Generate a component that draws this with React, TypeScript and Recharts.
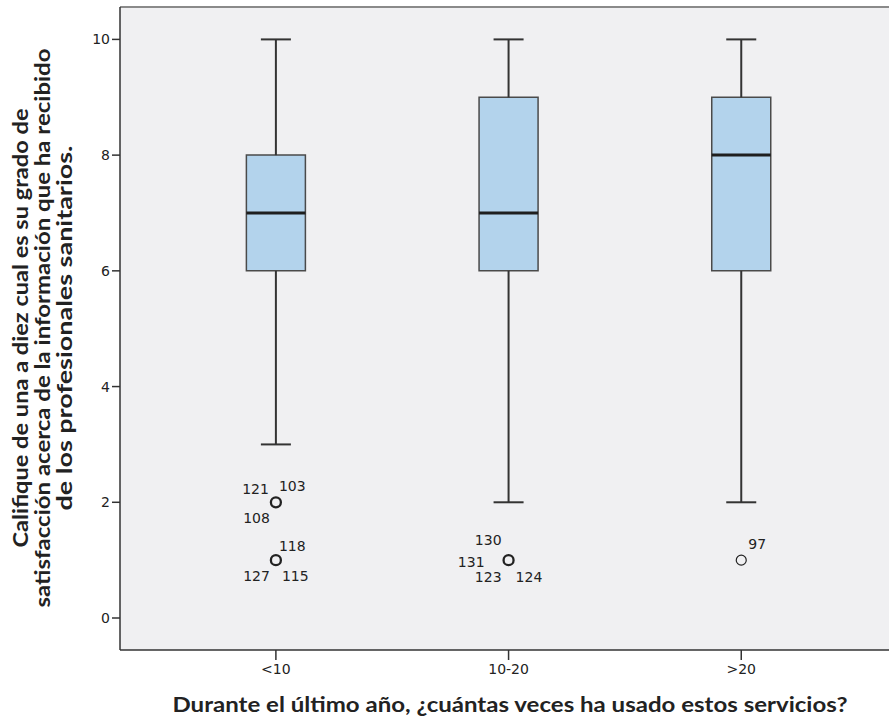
import {
    ComposedChart,
    Scatter,
    XAxis,
    YAxis,
    CartesianGrid,
    ReferenceArea,
    ReferenceLine,
} from 'recharts';

const categories = ['<10', '10-20', '>20'];
const whiskerLow = [3, 2, 2];
const quartile1 = [6, 6, 6];
const medians = [7, 7, 8];
const quartile3 = [8, 9, 9];
const whiskerHigh = [10, 10, 10];

// outliers: group index, value, case numbers shown beside the marker
const outlierGroups = [0, 0, 1, 2];
const outlierValues = [2, 1, 1, 1];
const outlierCases = [
    ['121', '103', '108'],
    ['118', '127', '115'],
    ['130', '131', '123', '124'],
    ['97'],
];

const yTicks = [0, 2, 4, 6, 8, 10];
const Y_DOMAIN = [-0.553, 10.56];
const X_DOMAIN = [0.33, 3.635];
const BOX_HALF = 0.1268;
const CAP_HALF = 0.0645;

// where each case label sits around its marker (px)
const labelPlace: Record<string, [number, number, string]> = {
    '121': [-7, -8, 'end'],
    '103': [3, -11, 'start'],
    '108': [-6, 21, 'end'],
    '118': [3, -9, 'start'],
    '127': [-6, 21, 'end'],
    '115': [6, 21, 'start'],
    '130': [-7, -15, 'end'],
    '131': [-24, 7, 'end'],
    '123': [-7, 22, 'end'],
    '124': [7, 22, 'start'],
    '97': [7, -11, 'start'],
};

const boxes = categories.map((name, i) => ({
    name,
    x: i + 1,
    low: whiskerLow[i],
    q1: quartile1[i],
    med: medians[i],
    q3: quartile3[i],
    high: whiskerHigh[i],
}));

const outliers = outlierValues.map((v, i) => ({
    x: outlierGroups[i] + 1,
    y: v,
    cases: outlierCases[i],
}));

const FONT = '"DejaVu Sans", sans-serif';
const TITLE_FONT = 'Lato, "Open Sans", sans-serif';

const OutlierMark = (props: any) => {
    const { cx, cy, payload } = props;
    const many = payload.cases.length > 1;
    return (
        <g>
            <circle cx={cx} cy={cy} r={5} fill='none' stroke='#222' strokeWidth={many ? 2.3 : 1.2} />
            {payload.cases.map((c: string) => {
                const [dx, dy, anchor] = labelPlace[c];
                return (
                    <text key={c} x={cx + dx} y={cy + dy} textAnchor={anchor as any}
                        fontSize={14} fontFamily={FONT} fill='#222'>
                        {c}
                    </text>
                );
            })}
        </g>
    );
};

const YTitle = () => {
    const lines = [
        'Califique de una a diez cual es su grado de',
        'satisfacción acerca de la información que ha recibido',
        'de los profesionales sanitarios.',
    ];
    const base = [28, 50, 72];
    const lengths = [439, 559, 365];
    return (
        <g>
            {lines.map((t, i) => (
                <text key={i} x={base[i]} y={328} transform={`rotate(-90 ${base[i]} 328)`}
                    textAnchor='middle' fontSize={20} fontWeight='bold'
                    fontFamily={TITLE_FONT} fill='#222'
                    textLength={lengths[i]} lengthAdjust='spacingAndGlyphs'>
                    {t}
                </text>
            ))}
        </g>
    );
};

const XTitle = () => (
    <text x={510} y={712} textAnchor='middle' fontSize={20} fontWeight='bold'
        fontFamily={TITLE_FONT} fill='#222' textLength={675} lengthAdjust='spacingAndGlyphs'>
        Durante el último año, ¿cuántas veces ha usado estos servicios?
    </text>
);

export default function App() {
    return (
        <div style={{ position: 'absolute', left: 0, top: 0, background: '#fff' }}>
            <ComposedChart
                width={889}
                height={722}
                data={outliers}
                margin={{ top: 7, right: 0, bottom: 0, left: 0 }}
            >
                <CartesianGrid fill='#f0f0f2' horizontal={false} vertical={false} />
                <XAxis
                    type='number'
                    dataKey='x'
                    domain={X_DOMAIN}
                    allowDataOverflow
                    ticks={[1, 2, 3]}
                    tickFormatter={(v) => categories[v - 1]}
                    height={72}
                    tickSize={10}
                    tickMargin={4}
                    axisLine={{ stroke: '#333', strokeWidth: 1.5 }}
                    tickLine={{ stroke: '#333', strokeWidth: 1.5 }}
                    tick={{ fill: '#222', fontSize: 14, fontFamily: FONT }}
                    label={{ content: () => <XTitle /> }}
                />
                <YAxis
                    type='number'
                    domain={Y_DOMAIN}
                    allowDataOverflow
                    ticks={yTicks}
                    width={120}
                    tickSize={8}
                    tickMargin={2}
                    axisLine={{ stroke: '#333', strokeWidth: 1.5 }}
                    tickLine={{ stroke: '#333', strokeWidth: 1.5 }}
                    tick={{ fill: '#222', fontSize: 14, fontFamily: FONT }}
                    label={{ content: () => <YTitle /> }}
                />
                <ReferenceLine y={Y_DOMAIN[1]} stroke='#8a8a8a' strokeWidth={2} ifOverflow='visible' />
                {/* lower whisker: min to Q1 */}
                {boxes.map((b) => (
                    <ReferenceLine
                        key={`wl-${b.name}`}
                        segment={[{ x: b.x, y: b.low }, { x: b.x, y: b.q1 }]}
                        stroke='#333'
                        strokeWidth={2}
                    />
                ))}
                {/* upper whisker: Q3 to max */}
                {boxes.map((b) => (
                    <ReferenceLine
                        key={`wh-${b.name}`}
                        segment={[{ x: b.x, y: b.q3 }, { x: b.x, y: b.high }]}
                        stroke='#333'
                        strokeWidth={2}
                    />
                ))}
                {boxes.map((b) => (
                    <ReferenceLine
                        key={`cl-${b.name}`}
                        segment={[{ x: b.x - CAP_HALF, y: b.low }, { x: b.x + CAP_HALF, y: b.low }]}
                        stroke='#333'
                        strokeWidth={2}
                    />
                ))}
                {boxes.map((b) => (
                    <ReferenceLine
                        key={`ch-${b.name}`}
                        segment={[{ x: b.x - CAP_HALF, y: b.high }, { x: b.x + CAP_HALF, y: b.high }]}
                        stroke='#333'
                        strokeWidth={2}
                    />
                ))}
                {boxes.map((b) => (
                    <ReferenceArea
                        key={`box-${b.name}`}
                        x1={b.x - BOX_HALF}
                        x2={b.x + BOX_HALF}
                        y1={b.q1}
                        y2={b.q3}
                        fill='#b3d3ec'
                        fillOpacity={1}
                        stroke='#4a4a4a'
                        strokeWidth={1.5}
                    />
                ))}
                {boxes.map((b) => (
                    <ReferenceLine
                        key={`med-${b.name}`}
                        segment={[{ x: b.x - BOX_HALF, y: b.med }, { x: b.x + BOX_HALF, y: b.med }]}
                        stroke='#1e1e1e'
                        strokeWidth={3}
                    />
                ))}
                <Scatter dataKey='y' shape={<OutlierMark />} isAnimationActive={false} />
            </ComposedChart>
        </div>
    );
}
